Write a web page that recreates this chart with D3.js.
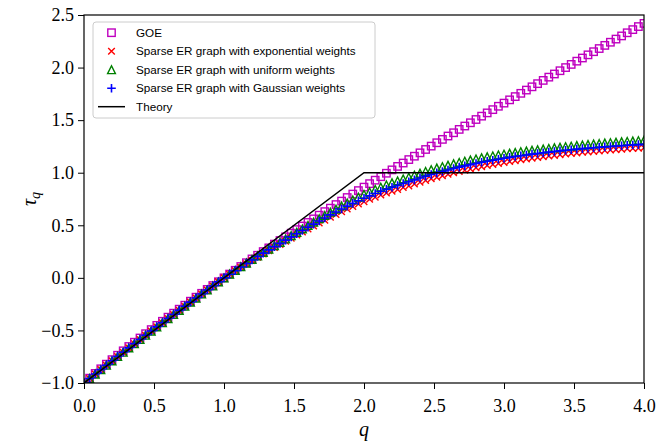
<!DOCTYPE html>
<html>
<head>
<meta charset="utf-8">
<script src="https://cdn.jsdelivr.net/npm/d3@7"></script>
<style>
  body { margin: 0; background: #fff; }
  .tick text { font-family: "Liberation Serif", serif; font-size: 18px; fill: #000; }
  .tick line { stroke: #000; stroke-width: 1; }
</style>
</head>
<body>
<svg id="chart" width="668" height="441"></svg>
<script>
// q values (x)
const q = [0.00,0.04,0.08,0.12,0.16,0.20,0.24,0.28,0.32,0.36,0.40,0.44,0.48,0.52,0.56,0.60,0.64,0.68,0.72,0.76,
  0.80,0.84,0.88,0.92,0.96,1.00,1.04,1.08,1.12,1.16,1.20,1.24,1.28,1.32,1.36,1.40,1.44,1.48,1.52,1.56,
  1.60,1.64,1.68,1.72,1.76,1.80,1.84,1.88,1.92,1.96,2.00,2.04,2.08,2.12,2.16,2.20,2.24,2.28,2.32,2.36,
  2.40,2.44,2.48,2.52,2.56,2.60,2.64,2.68,2.72,2.76,2.80,2.84,2.88,2.92,2.96,3.00,3.04,3.08,3.12,3.16,
  3.20,3.24,3.28,3.32,3.36,3.40,3.44,3.48,3.52,3.56,3.60,3.64,3.68,3.72,3.76,3.80,3.84,3.88,3.92,3.96,4.00];

const tauGOE = [-1.000,-0.954,-0.909,-0.865,-0.821,-0.778,-0.736,-0.694,-0.653,-0.612,-0.572,-0.531,-0.492,-0.452,-0.413,-0.374,-0.336,-0.298,-0.260,-0.222,
  -0.184,-0.147,-0.110,-0.073,-0.037,0.000,0.036,0.072,0.108,0.144,0.180,0.215,0.250,0.285,0.321,0.355,0.390,0.425,0.459,0.493,
  0.527,0.561,0.596,0.630,0.663,0.697,0.730,0.764,0.797,0.830,0.863,0.896,0.929,0.962,0.995,1.027,1.060,1.092,1.125,1.157,
  1.189,1.221,1.253,1.285,1.317,1.349,1.380,1.412,1.444,1.475,1.506,1.538,1.569,1.600,1.632,1.662,1.693,1.724,1.755,1.786,
  1.817,1.847,1.878,1.909,1.939,1.970,2.000,2.030,2.061,2.091,2.121,2.151,2.181,2.211,2.241,2.271,2.301,2.331,2.361,2.390,2.420];

const tauExp = [-1.000,-0.957,-0.915,-0.873,-0.831,-0.789,-0.748,-0.707,-0.666,-0.626,-0.586,-0.546,-0.506,-0.466,-0.427,-0.387,-0.348,-0.309,-0.270,-0.231,
  -0.192,-0.153,-0.115,-0.077,-0.038,0.000,0.034,0.067,0.100,0.133,0.165,0.197,0.228,0.258,0.288,0.318,0.348,0.378,0.407,0.437,
  0.465,0.493,0.522,0.549,0.577,0.603,0.629,0.655,0.679,0.703,0.725,0.747,0.768,0.788,0.807,0.825,0.841,0.859,0.875,0.893,
  0.910,0.927,0.942,0.957,0.971,0.985,0.999,1.012,1.024,1.036,1.047,1.058,1.068,1.078,1.087,1.097,1.106,1.115,1.123,1.130,
  1.139,1.145,1.152,1.159,1.165,1.171,1.178,1.183,1.188,1.194,1.198,1.203,1.207,1.212,1.216,1.220,1.223,1.228,1.231,1.234,1.237];

const tauUni = [-1.000,-0.957,-0.915,-0.873,-0.831,-0.789,-0.748,-0.707,-0.666,-0.626,-0.586,-0.546,-0.506,-0.466,-0.427,-0.387,-0.348,-0.309,-0.270,-0.231,
  -0.192,-0.153,-0.115,-0.077,-0.038,0.000,0.036,0.071,0.106,0.141,0.175,0.209,0.242,0.274,0.306,0.338,0.370,0.402,0.433,0.466,
  0.498,0.530,0.562,0.593,0.624,0.654,0.684,0.713,0.741,0.768,0.794,0.818,0.841,0.863,0.884,0.904,0.922,0.941,0.958,0.977,
  0.995,1.013,1.029,1.044,1.058,1.071,1.085,1.098,1.110,1.121,1.131,1.142,1.151,1.160,1.169,1.177,1.185,1.192,1.200,1.206,
  1.213,1.218,1.225,1.231,1.237,1.242,1.248,1.253,1.258,1.263,1.268,1.273,1.277,1.282,1.286,1.290,1.294,1.298,1.301,1.305,1.308];

const tauGau = [-1.000,-0.957,-0.915,-0.873,-0.831,-0.789,-0.748,-0.707,-0.666,-0.626,-0.586,-0.546,-0.506,-0.466,-0.427,-0.387,-0.348,-0.309,-0.270,-0.231,
  -0.192,-0.153,-0.115,-0.077,-0.038,0.000,0.035,0.069,0.103,0.137,0.170,0.203,0.235,0.266,0.297,0.328,0.359,0.390,0.420,0.451,
  0.481,0.511,0.541,0.570,0.599,0.627,0.655,0.682,0.708,0.733,0.757,0.780,0.802,0.823,0.843,0.862,0.879,0.897,0.914,0.932,
  0.950,0.967,0.983,0.998,1.012,1.026,1.040,1.053,1.065,1.077,1.088,1.099,1.109,1.119,1.128,1.137,1.146,1.154,1.162,1.169,
  1.177,1.183,1.190,1.196,1.202,1.208,1.214,1.219,1.224,1.229,1.233,1.238,1.242,1.246,1.250,1.254,1.257,1.261,1.264,1.267,1.270];

const theoryQ = [0, 2, 4];
const theoryTau = [-1, 1, 1];

const xTicks = [0, 0.5, 1, 1.5, 2, 2.5, 3, 3.5, 4];
const yTicks = [-1, -0.5, 0, 0.5, 1, 1.5, 2, 2.5];

const labels = ['GOE', 'Sparse ER graph with exponential weights', 'Sparse ER graph with uniform weights',
  'Sparse ER graph with Gaussian weights', 'Theory'];

const pL = 84, pR = 644, pT = 15, pB = 383;
const svg = d3.select('#chart');
const x = d3.scaleLinear().domain([0, 4]).range([pL, pR]);
const y = d3.scaleLinear().domain([-1, 2.5]).range([pB, pT]);

svg.append('defs').append('clipPath').attr('id', 'clip')
  .append('rect').attr('x', pL).attr('y', pT).attr('width', pR - pL).attr('height', pB - pT);

const plot = svg.append('g').attr('clip-path', 'url(#clip)');

// marker shapes
const sq = 3.7, cr = 3.3, tr = 3.9, pl = 4.3, sw = 1.4;
function square(g, col) {
  g.append('rect').attr('x', -sq).attr('y', -sq).attr('width', 2 * sq).attr('height', 2 * sq)
    .attr('fill', 'none').attr('stroke', col).attr('stroke-width', sw);
}
function cross(g, col) {
  g.append('path').attr('d', `M${-cr},${-cr}L${cr},${cr}M${-cr},${cr}L${cr},${-cr}`)
    .attr('stroke', col).attr('stroke-width', sw).attr('fill', 'none');
}
function triangle(g, col) {
  g.append('path').attr('d', `M0,${-tr}L${tr},${tr}L${-tr},${tr}Z`)
    .attr('stroke', col).attr('stroke-width', sw).attr('fill', 'none');
}
function plus(g, col) {
  g.append('path').attr('d', `M${-pl},0L${pl},0M0,${-pl}L0,${pl}`)
    .attr('stroke', col).attr('stroke-width', sw + 0.2).attr('fill', 'none');
}

const series = [
  { vals: tauGOE, col: '#bf00bf', draw: square },
  { vals: tauExp, col: '#ff0000', draw: cross },
  { vals: tauUni, col: '#008000', draw: triangle },
  { vals: tauGau, col: '#0000ff', draw: plus }
];

series.forEach(s => {
  plot.append('g').selectAll('g')
    .data(q.map((v, i) => [v, s.vals[i]]))
    .enter().append('g')
    .attr('transform', d => `translate(${x(d[0])},${y(d[1])})`)
    .each(function () { s.draw(d3.select(this), s.col); });
});

const line = d3.line().x(d => x(d[0])).y(d => y(d[1]));
plot.append('path')
  .datum(theoryQ.map((v, i) => [v, theoryTau[i]]))
  .attr('d', line).attr('fill', 'none').attr('stroke', '#000').attr('stroke-width', 1.5);

// axes
const xAxis = d3.axisBottom(x).tickValues(xTicks).tickFormat(d3.format('.1f')).tickSize(6).tickPadding(10);
svg.append('g').attr('transform', `translate(0,${pB})`).call(xAxis).select('.domain').remove();
const yAxis = d3.axisLeft(y).tickValues(yTicks).tickFormat(d3.format('.1f')).tickSize(6).tickPadding(4);
svg.append('g').attr('transform', `translate(${pL},0)`).call(yAxis).select('.domain').remove();

svg.append('rect').attr('x', pL).attr('y', pT).attr('width', pR - pL).attr('height', pB - pT)
  .attr('fill', 'none').attr('stroke', '#000').attr('stroke-width', 1.2);

svg.append('text').attr('x', (pL + pR) / 2).attr('y', 436)
  .attr('text-anchor', 'middle').attr('font-family', 'Liberation Serif, serif')
  .attr('font-style', 'italic').attr('font-size', 20).text('q');

const yl = svg.append('text').attr('transform', 'translate(36,199) rotate(-90)')
  .attr('text-anchor', 'middle').attr('font-family', 'Liberation Serif, serif')
  .attr('font-style', 'italic').attr('font-size', 20);
yl.append('tspan').text('τ');
yl.append('tspan').attr('font-size', 14).attr('dy', 4).text('q');

// legend
const lg = svg.append('g');
lg.append('rect').attr('x', 93).attr('y', 22).attr('width', 282).attr('height', 96).attr('rx', 3)
  .attr('fill', '#fff').attr('fill-opacity', 0.8).attr('stroke', '#cccccc').attr('stroke-width', 1);
const rowY = [32.7, 51.2, 69.7, 88.2, 106.7];
series.forEach((s, i) => {
  const g = lg.append('g').attr('transform', `translate(111.5,${rowY[i]})`);
  s.draw(g, s.col);
});
lg.append('line').attr('x1', 98).attr('x2', 125).attr('y1', rowY[4]).attr('y2', rowY[4])
  .attr('stroke', '#000').attr('stroke-width', 1.5);
lg.selectAll('text.lab').data(labels).enter().append('text')
  .attr('x', 136).attr('y', (d, i) => rowY[i] + 4)
  .attr('font-family', 'Liberation Sans, sans-serif').attr('font-size', 11.7)
  .text(d => d);
</script>
</body>
</html>
